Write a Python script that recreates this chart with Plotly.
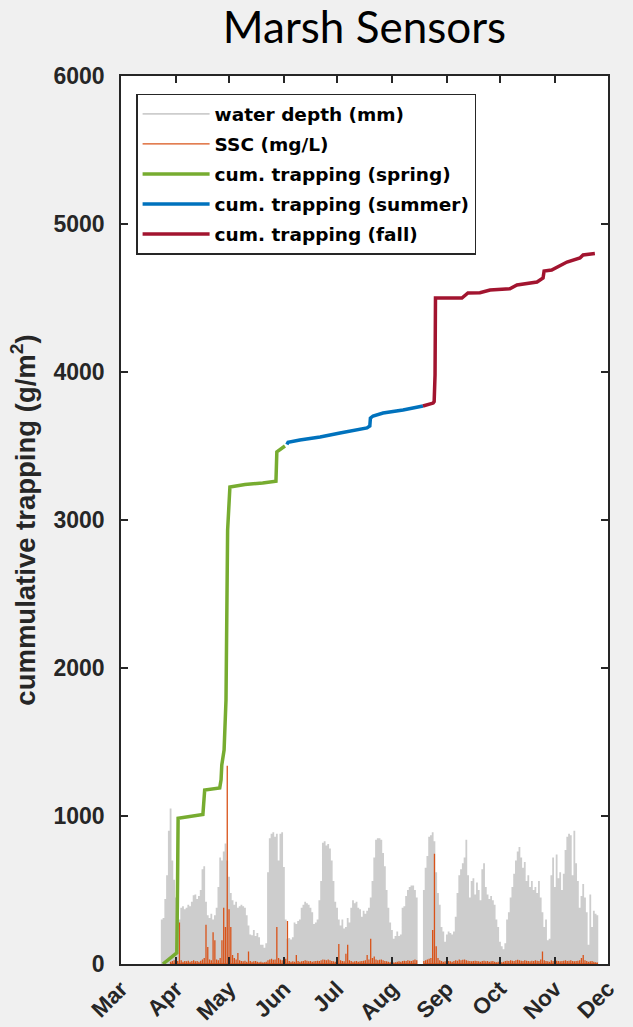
import pandas as pd
import plotly.graph_objects as go

# ---- daily peak water depth (mm), one value per day from 24 Mar; None = no record
depth_start = "2019-03-24"
depth_mm = [
    300, 310, 440, 600, 900, 1050, 700, 570, 450, 450,
    300, 380, 390, 370, 380, 400, 390, 420, 465, 470,
    440, 460, 500, 640, 660, 420, 330, 310, 340, 300,
    330, 380, 520, 720, 700, 760, 815, 700, 590, 480,
    430, 400, 420, 380, 390, 400, 390, 380, 330, 260,
    200, 195, 230, 190, 210, 180, 130, 130, 110, 140,
    620, 850, 880, 890, 860, 880, 700, 880, 890, 655,
    300, 170, 175, 165, 180, 280, 270, 290, 300, 380,
    400, 420, 410, 400, 380, 350, 270, 280, 300, 430,
    560, 820, 830, 800, 810, 780, 700, 560, 420, 380,
    300, 260, 300, 240, 250, 310, 280, 380, 430, 410,
    420, 380, 370, 320, 360, 340, 360, 380, 450, 560,
    720, 840, 850, 850, 840, 750, 660, 500, 380, 280,
    230, 170, 190, 220, 190, 200, 380, 390, 460, 500,
    520, 530, 530, 500, 450, None, None, None, 500, 650,
    730, 860, 870, 890, 830, 620, 480, 400, 250, 220,
    150, 200, 220, 210, 200, 220, 320, 480, 600, 640,
    680, 720, 840, 600, 450, 560, 580, 470, 550, 500,
    430, 640, 680, 520, 470, 440, 460, 430, 400, 300,
    250, 150, 120, 100, 140, 300, 350, 450, 520, 610,
    700, 760, 790, 720, 650, 690, 560, 600, 520, 560,
    500, 520, 480, 560, 450, 350, 250, 300, 160, 170,
    600, 720, 520, 740, 580, 620, 500, 610, 770, 860,
    880, 870, 600, 900, 680, 560, 380, 460, 540, 450,
    350, 130, 470, 250, 360, 340, 330,
]

# ---- daily peak suspended sediment concentration (mg/L) from 29 Mar
ssc_start = "2019-03-29"
ssc_mgl = [
    15, 20, 25, 30, 20, 280, 25, 15, 20, 18,
    22, 15, 20, 25, 18, 20, 15, 22, 30, 40,
    265, 115, 30, 25, 215, 160, 30, 25, 40, 160,
    380, 250, 1340, 370, 250, 60, 40, 30, 75, 25,
    20, 18, 22, 15, 85, 20, 15, 18, 20, 15,
    12, 15, 10, 12, 15, 25, 30, 35, 28, 30,
    250, 40, 30, 25, 20, 35, 290, 20, 15, 18,
    15, 60, 20, 15, 18, 20, 25, 22, 18, 20,
    15, 18, 20, 22, 20, 25, 30, 28, 25, 30,
    25, 20, 18, 15, 20, 135, 25, 20, 18, 70,
    130, 25, 20, 15, 18, 20, 15, 18, 20, 22,
    25, 60, 30, 170, 40, 50, 30, 25, 28, 30,
    25, 20, 18, 15, 12, 15, 10, 12, 15, 18,
    15, 20, 22, 20, 25, 22, 20, 25, 30, 25,
    None, None, None, 20, 25, 30, 35, 40, 230, 745,
    120, 40, 25, 20, 15, 18, 15, 20, 18, 15,
    20, 25, 22, 30, 25, 28, 30, 25, 22, 20,
    18, 20, 22, 20, 18, 15, 20, 22, 18, 20,
    15, 18, 20, 15, 12, 15, 10, 12, 15, 20,
    22, 20, 25, 22, 20, 25, 28, 25, 22, 20,
    25, 22, 20, 18, 22, 20, 25, 22, 20, 30,
    85, 25, 20, 18, 15, 25, 20, 18, 22, 20,
    18, 20, 22, 25, 20, 22, 25, 20, 18, 20,
    22, 25, 40, 60, 25, 20, 15, 18, 20, 15,
    12, 10,
]

# ---- cumulative trapping (g/m^2) by season
spring_time = [
    "2019-03-24 16:00", "2019-03-28 00:00", "2019-04-01 12:00", "2019-04-01 20:00",
    "2019-04-02 06:00", "2019-04-16 06:00", "2019-04-17 06:00", "2019-04-25 18:00",
    "2019-04-26 12:00", "2019-04-26 22:00", "2019-04-28 05:00", "2019-04-29 07:00",
    "2019-04-29 17:00", "2019-04-30 05:00", "2019-05-01 12:00", "2019-05-10 00:00",
    "2019-05-20 00:00", "2019-05-27 12:00", "2019-05-28 00:00", "2019-06-01 14:00",
]
spring_trap = [
    0, 30, 75, 400,
    985, 1010, 1175, 1190,
    1245, 1345, 1446, 1784,
    2574, 2932, 3223, 3240,
    3250, 3262, 3460, 3500,
]

summer_time = [
    "2019-06-02 16:00", "2019-06-03 08:00", "2019-06-10 00:00", "2019-06-21 10:00",
    "2019-07-02 16:00", "2019-07-12 08:00", "2019-07-17 22:00", "2019-07-19 12:00",
    "2019-07-19 20:00", "2019-07-21 08:00", "2019-07-27 00:00", "2019-08-07 06:00",
    "2019-08-15 00:00", "2019-08-18 12:00",
]
summer_trap = [
    3510, 3525, 3541, 3561,
    3588, 3608, 3622, 3635,
    3689, 3703, 3723, 3743,
    3764, 3770,
]

fall_time = [
    "2019-08-18 12:00", "2019-08-24 06:00", "2019-08-24 20:00", "2019-08-25 02:00",
    "2019-08-25 08:00", "2019-08-25 14:00", "2019-09-09 12:00", "2019-09-12 22:00",
    "2019-09-19 16:00", "2019-09-25 10:00", "2019-10-01 00:00", "2019-10-06 14:00",
    "2019-10-10 14:00", "2019-10-16 08:00", "2019-10-21 22:00", "2019-10-25 08:00",
    "2019-10-25 22:00", "2019-10-30 04:00", "2019-11-02 04:00", "2019-11-07 20:00",
    "2019-11-15 04:00", "2019-11-16 22:00", "2019-11-23 14:00",
]
fall_trap = [
    3770, 3790, 3800, 3950,
    3980, 4500, 4500, 4534,
    4536, 4554, 4561, 4563,
    4588, 4601, 4608, 4635,
    4682, 4689, 4709, 4743,
    4770, 4791, 4800,
]

month_ticks = ["2019-03-01", "2019-04-01", "2019-05-01", "2019-06-01", "2019-07-01",
               "2019-08-01", "2019-09-01", "2019-10-01", "2019-11-01", "2019-12-01"]
month_labels = ["Mar", "Apr", "May", "Jun", "Jul", "Aug", "Sep", "Oct", "Nov", "Dec"]
y_ticks = [0, 1000, 2000, 3000, 4000, 5000, 6000]

GREY = "#cdcdcd"
ORANGE = "#D95319"
GREEN = "#77AC30"
BLUE = "#0072BD"
RED = "#A2142F"
AXIS = "#262626"
BOLD = "Liberation Sans, Arial"


def stems(start, values):
    """Each daily peak becomes a spike rising from and returning to zero."""
    days = pd.date_range(start, periods=len(values), freq="D")
    xs, ys = [], []
    for t, v in zip(days, values):
        if v is None:
            xs.append(None)
            ys.append(None)
            continue
        xs += [t, t, t]
        ys += [0, v, 0]
    return xs, ys


fig = go.Figure()

dx, dy = stems(depth_start, depth_mm)
fig.add_trace(go.Scatter(x=dx, y=dy, mode="lines", name="water depth (mm)",
                         line=dict(color=GREY, width=1.8), legendgroup="g1"))

sx, sy = stems(ssc_start, ssc_mgl)
fig.add_trace(go.Scatter(x=sx, y=sy, mode="lines", name="SSC (mg/L)",
                         line=dict(color=ORANGE, width=1.3), legendgroup="g2"))

fig.add_trace(go.Scatter(x=pd.to_datetime(spring_time), y=spring_trap, mode="lines",
                         name="cum. trapping (spring)",
                         line=dict(color=GREEN, width=3.5), legendgroup="g3"))
fig.add_trace(go.Scatter(x=pd.to_datetime(summer_time), y=summer_trap, mode="lines",
                         name="cum. trapping (summer)",
                         line=dict(color=BLUE, width=3.5), legendgroup="g4"))
fig.add_trace(go.Scatter(x=pd.to_datetime(fall_time), y=fall_trap, mode="lines",
                         name="cum. trapping (fall)",
                         line=dict(color=RED, width=3.5), legendgroup="g5"))

fig.update_layout(
    width=633, height=1027,
    paper_bgcolor="#f0f0f0", plot_bgcolor="white",
    margin=dict(l=121, r=25, t=76, b=63, autoexpand=False),
    title=dict(text="Marsh Sensors", font=dict(family="Lato", size=44, color="black"),
               x=0.5, xref="paper", xanchor="center",
               y=1 - 28 / 1027, yref="container", yanchor="middle"),
    showlegend=True,
    legend=dict(x=0.031, y=0.98, xanchor="left", yanchor="top",
                bgcolor="white", bordercolor=AXIS, borderwidth=1.5,
                font=dict(family="DejaVu Sans", size=18.5, color="black", weight="bold"),
                traceorder="grouped", tracegroupgap=3, itemwidth=67),
    xaxis=dict(type="date", range=["2019-03-01", "2019-12-01"],
               tickvals=month_ticks, ticktext=month_labels, tickangle=-45,
               ticks="inside", ticklen=7, tickwidth=1.5, tickcolor=AXIS,
               showline=True, linecolor=AXIS, linewidth=1.5, mirror="ticks",
               showgrid=False, zeroline=False,
               tickfont=dict(family=BOLD, size=22.5, color=AXIS, weight="bold"),
               ticklabelstandoff=1),
    yaxis=dict(range=[0, 6000], tickvals=y_ticks, ticktext=[str(v) for v in y_ticks],
               ticks="inside", ticklen=7, tickwidth=1.5, tickcolor=AXIS,
               showline=True, linecolor=AXIS, linewidth=1.5, mirror="ticks",
               showgrid=False, zeroline=False,
               tickfont=dict(family=BOLD, size=23, color=AXIS, weight="bold"),
               ticklabelstandoff=10,
               title=dict(text="cummulative trapping (g/m<sup>2</sup>)", standoff=10,
                          font=dict(family=BOLD, size=27.5, color=AXIS, weight="bold"))),
)

fig.write_html("out.html")
